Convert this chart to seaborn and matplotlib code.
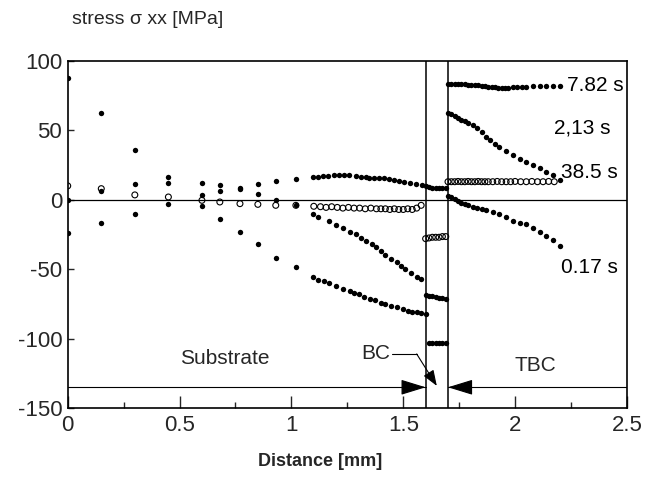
import matplotlib
matplotlib.use("Agg")
import matplotlib.pyplot as plt
import pandas as pd
import seaborn as sns

# ---------------- data ----------------
# 7.82 s (top curve)
s782_x = [0, .15, .3, .45, .6, .68, .77, .85, .93, 1.02, 1.095, 1.117, 1.14, 1.162, 1.192, 1.214,
          1.236, 1.259, 1.289, 1.311, 1.334, 1.349, 1.371, 1.393, 1.416, 1.438, 1.46, 1.483, 1.505,
          1.528, 1.558, 1.585,
          1.60, 1.615, 1.63, 1.645, 1.66, 1.675, 1.69,
          1.70, 1.715, 1.73, 1.745, 1.76, 1.775, 1.79, 1.805, 1.82, 1.835, 1.85, 1.865, 1.88, 1.895,
          1.91, 1.925, 1.94, 1.955, 1.97, 1.99, 2.01, 2.03, 2.05, 2.08, 2.11, 2.14, 2.17, 2.20]
s782_y = [87.5, 62.5, 36, 16.5, 12.2, 10.5, 8.8, 11.2, 13.6, 14.6, 16.5, 16.5, 16.8, 17, 17.8, 17.8,
          17.8, 17.8, 17, 16.5, 16.5, 16, 16, 16, 15.4, 14.6, 14.1, 13.6, 12.9,
          12.2, 11.2, 10.5,
          10, 9.2, 8.6, 8.3, 8.2, 8.3, 8.5,
          83.2, 83.2, 83.1, 83, 83, 83, 82.9, 82.8, 82.6, 82.4, 82.2, 81.8, 81.4, 81.1,
          80.9, 80.8, 80.8, 80.8, 80.8, 80.9, 81, 81.1, 81.3, 81.6, 81.7, 81.7, 81.8, 81.9]

# 2.13 s
s213_x = [0, .15, .3, .45, .6, .68, .77, .85, .93, 1.02, 1.095, 1.12, 1.17, 1.20, 1.23, 1.26, 1.29,
          1.31, 1.334, 1.36, 1.38, 1.40, 1.42, 1.445, 1.47, 1.49, 1.51, 1.535, 1.56, 1.58, 1.60,
          1.615, 1.63, 1.645, 1.66, 1.675, 1.69,
          1.70, 1.715, 1.73, 1.745, 1.76, 1.775, 1.79, 1.81, 1.83, 1.85, 1.87, 1.89, 1.91, 1.93,
          1.96, 1.99, 2.02, 2.05, 2.08, 2.11, 2.14, 2.17, 2.20]
s213_y = [0, 6.5, 11.6, 12.2, 3.3, 6.4, 7.4, 4.5, 0, -4, -10, -12.6, -15.6, -18.5, -20.5, -23, -25,
          -27.5, -30, -32, -34, -37, -40, -42.5, -45, -47.5, -50, -52.5, -55.5, -57, -68.5,
          -69, -69.5, -70, -70.5, -71, -71.5,
          62.5, 61.5, 60.3, 59, 57.7, 56.5, 55.5, 54, 51.5, 48.5, 45.5, 43, 40.5, 38,
          35, 32, 29.7, 27.4, 25, 22.6, 20.2, 17.8, 14.5]

# 38.5 s (open circles)
s385_x = [0, .15, .3, .45, .6, .68, .77, .85, .93, 1.02, 1.10, 1.13, 1.155, 1.18, 1.205, 1.23,
          1.255, 1.28, 1.305, 1.33, 1.355, 1.38, 1.40, 1.42, 1.44, 1.46, 1.48, 1.50, 1.52, 1.54,
          1.56, 1.58,
          1.60, 1.615, 1.63, 1.645, 1.66, 1.675, 1.69,
          1.70, 1.715, 1.73, 1.745, 1.76, 1.775, 1.79, 1.805, 1.82, 1.835, 1.85, 1.865, 1.88,
          1.90, 1.92, 1.94, 1.96, 1.98, 2.00, 2.025, 2.05, 2.075, 2.10, 2.125, 2.15, 2.175]
s385_y = [10, 8, 3.5, 2, -0.4, -1.6, -2.8, -3.3, -4, -4, -4.7, -5, -5.5, -5, -5.5, -6,
          -5.5, -6, -6, -6.5, -6, -6.5, -6.5, -6.5, -7, -6.5, -7, -7, -6.5, -7,
          -6, -4,
          -28, -27.5, -27, -27, -27, -26.5, -26.5,
          13, 13, 13, 13.2, 13, 13, 13.2, 13, 13, 13.2, 13, 13, 13,
          13, 13.2, 13, 13, 13, 13.2, 13, 13, 13.2, 13, 13, 13.2, 13]

# 0.17 s
s017_x = [0, .15, .3, .45, .6, .68, .77, .85, .93, 1.02, 1.095, 1.12, 1.145, 1.17, 1.20, 1.23,
          1.26, 1.28, 1.30, 1.325, 1.35, 1.375, 1.40, 1.42, 1.445, 1.47, 1.50, 1.52, 1.54, 1.56,
          1.58, 1.60,
          1.615, 1.63, 1.645, 1.66, 1.675, 1.69,
          1.70, 1.715, 1.73, 1.745, 1.76, 1.775, 1.79, 1.81, 1.83, 1.85, 1.87, 1.90, 1.93, 1.96,
          1.99, 2.02, 2.05, 2.08, 2.11, 2.14, 2.17, 2.20]
s017_y = [-24, -17, -10, -3.3, -4.7, -14, -23, -32, -42, -48.7, -55.4, -57.5, -58.5, -60, -62,
          -64, -66, -67, -68, -70, -71.6, -72.5, -74, -75, -76.5, -77.5, -79, -80, -80.5, -81,
          -81.5, -82,
          -103, -103, -103, -103, -103, -103,
          3, 2, 0.5, -1, -2, -3, -4, -5, -6, -6.8, -7.6, -8.8, -10, -12.5,
          -15, -16.4, -17.8, -20.4, -23, -26, -29, -33]

labels = ["7.82 s", "2,13 s", "38.5 s", "0.17 s"]
label_x = [2.23, 2.175, 2.205, 2.205]
label_y = [82.5, 52, 19.5, -49]

xticks = [0, 0.5, 1, 1.5, 2, 2.5]
xticklabels = ["0", "0.5", "1", "1.5", "2", "2.5"]
yticks = [-150, -100, -50, 0, 50, 100]

bc_left, bc_right = 1.6, 1.7
arrow_y = -135

# ---------------- build table ----------------
frames = []
for name, xs, ys in [("7.82 s", s782_x, s782_y), ("2,13 s", s213_x, s213_y),
                     ("38.5 s", s385_x, s385_y), ("0.17 s", s017_x, s017_y)]:
    frames.append(pd.DataFrame({"x": xs, "y": ys, "series": name}))
df = pd.concat(frames, ignore_index=True)

# ---------------- plot ----------------
sns.set_theme(style="ticks")
plt.rcParams['font.family'] = ['Liberation Sans', 'DejaVu Sans']
plt.rcParams['axes.unicode_minus'] = False

fig = plt.figure(figsize=(6.45, 4.87), dpi=100)
ax = fig.add_axes([0.105, 0.162, 0.867, 0.713])

ax.axhline(0, color="black", lw=0.9, zorder=1)
ax.axvline(bc_left, color="black", lw=1.1, zorder=1)
ax.axvline(bc_right, color="black", lw=1.1, zorder=1)

# open circles
sns.scatterplot(data=df[df.series == "38.5 s"], x="x", y="y", color="black",
                s=18, marker="o", linewidth=0.8, edgecolor="black", ax=ax, legend=False, zorder=3)
ax.collections[-1].set_facecolor("none")
# filled dots
sns.scatterplot(data=df[df.series != "38.5 s"], x="x", y="y", color="black",
                s=15, marker="o", linewidth=0, ax=ax, legend=False, zorder=4)

ax.set_xlim(0, 2.5)
ax.set_ylim(-150, 100)
ax.set_xticks(xticks)
ax.set_xticklabels(xticklabels)
ax.set_yticks(yticks)
ax.set_xticks([0.25, 0.75, 1.25, 1.75, 2.25], minor=True)
ax.tick_params(axis="x", which="major", direction="in", length=9, width=1, labelsize=16, pad=5)
ax.tick_params(axis="x", which="minor", direction="in", length=4, width=1)
ax.tick_params(axis="y", which="major", direction="in", length=4, width=1, labelsize=16, pad=4)
for sp in ax.spines.values():
    sp.set_color("black")
    sp.set_linewidth(1.2)
ax.set_xlabel("")
ax.set_ylabel("")

# series labels
for t, lx, ly in zip(labels, label_x, label_y):
    ax.text(lx, ly, t, fontsize=15, ha="left", va="center", color="black")

# layer annotations
ax.plot([0, bc_left], [arrow_y, arrow_y], color="black", lw=0.8)
ax.plot([bc_right, 2.5], [arrow_y, arrow_y], color="black", lw=0.8)
ax.annotate("", xy=(bc_left, arrow_y), xytext=(bc_left - 0.1, arrow_y),
            arrowprops=dict(arrowstyle="-|>,head_length=1.3,head_width=0.4", color="black",
                            lw=0.8, shrinkA=0, shrinkB=0))
ax.annotate("", xy=(bc_right, arrow_y), xytext=(bc_right + 0.1, arrow_y),
            arrowprops=dict(arrowstyle="-|>,head_length=1.3,head_width=0.4", color="black",
                            lw=0.8, shrinkA=0, shrinkB=0))
ax.text(0.70, -114, "Substrate", fontsize=15, ha="center", va="center")
ax.text(2.09, -119, "TBC", fontsize=15, ha="center", va="center")
ax.text(1.375, -111, "BC", fontsize=15, ha="center", va="center")
ax.plot([1.45, 1.56], [-111, -111], color="black", lw=0.8)
ax.annotate("", xy=(1.65, -134), xytext=(1.56, -111),
            arrowprops=dict(arrowstyle="-|>,head_length=0.8,head_width=0.3", color="black",
                            lw=0.8, shrinkA=0, shrinkB=0))

fig.text(72 / 645, 1 - 20 / 487, "stress σ xx [MPa]", fontsize=14, ha="left", va="center")
fig.text(320 / 645, 1 - 462 / 487, "Distance [mm]", fontsize=13, fontweight="bold",
         ha="center", va="center")

fig.savefig("out.png", dpi=100)
